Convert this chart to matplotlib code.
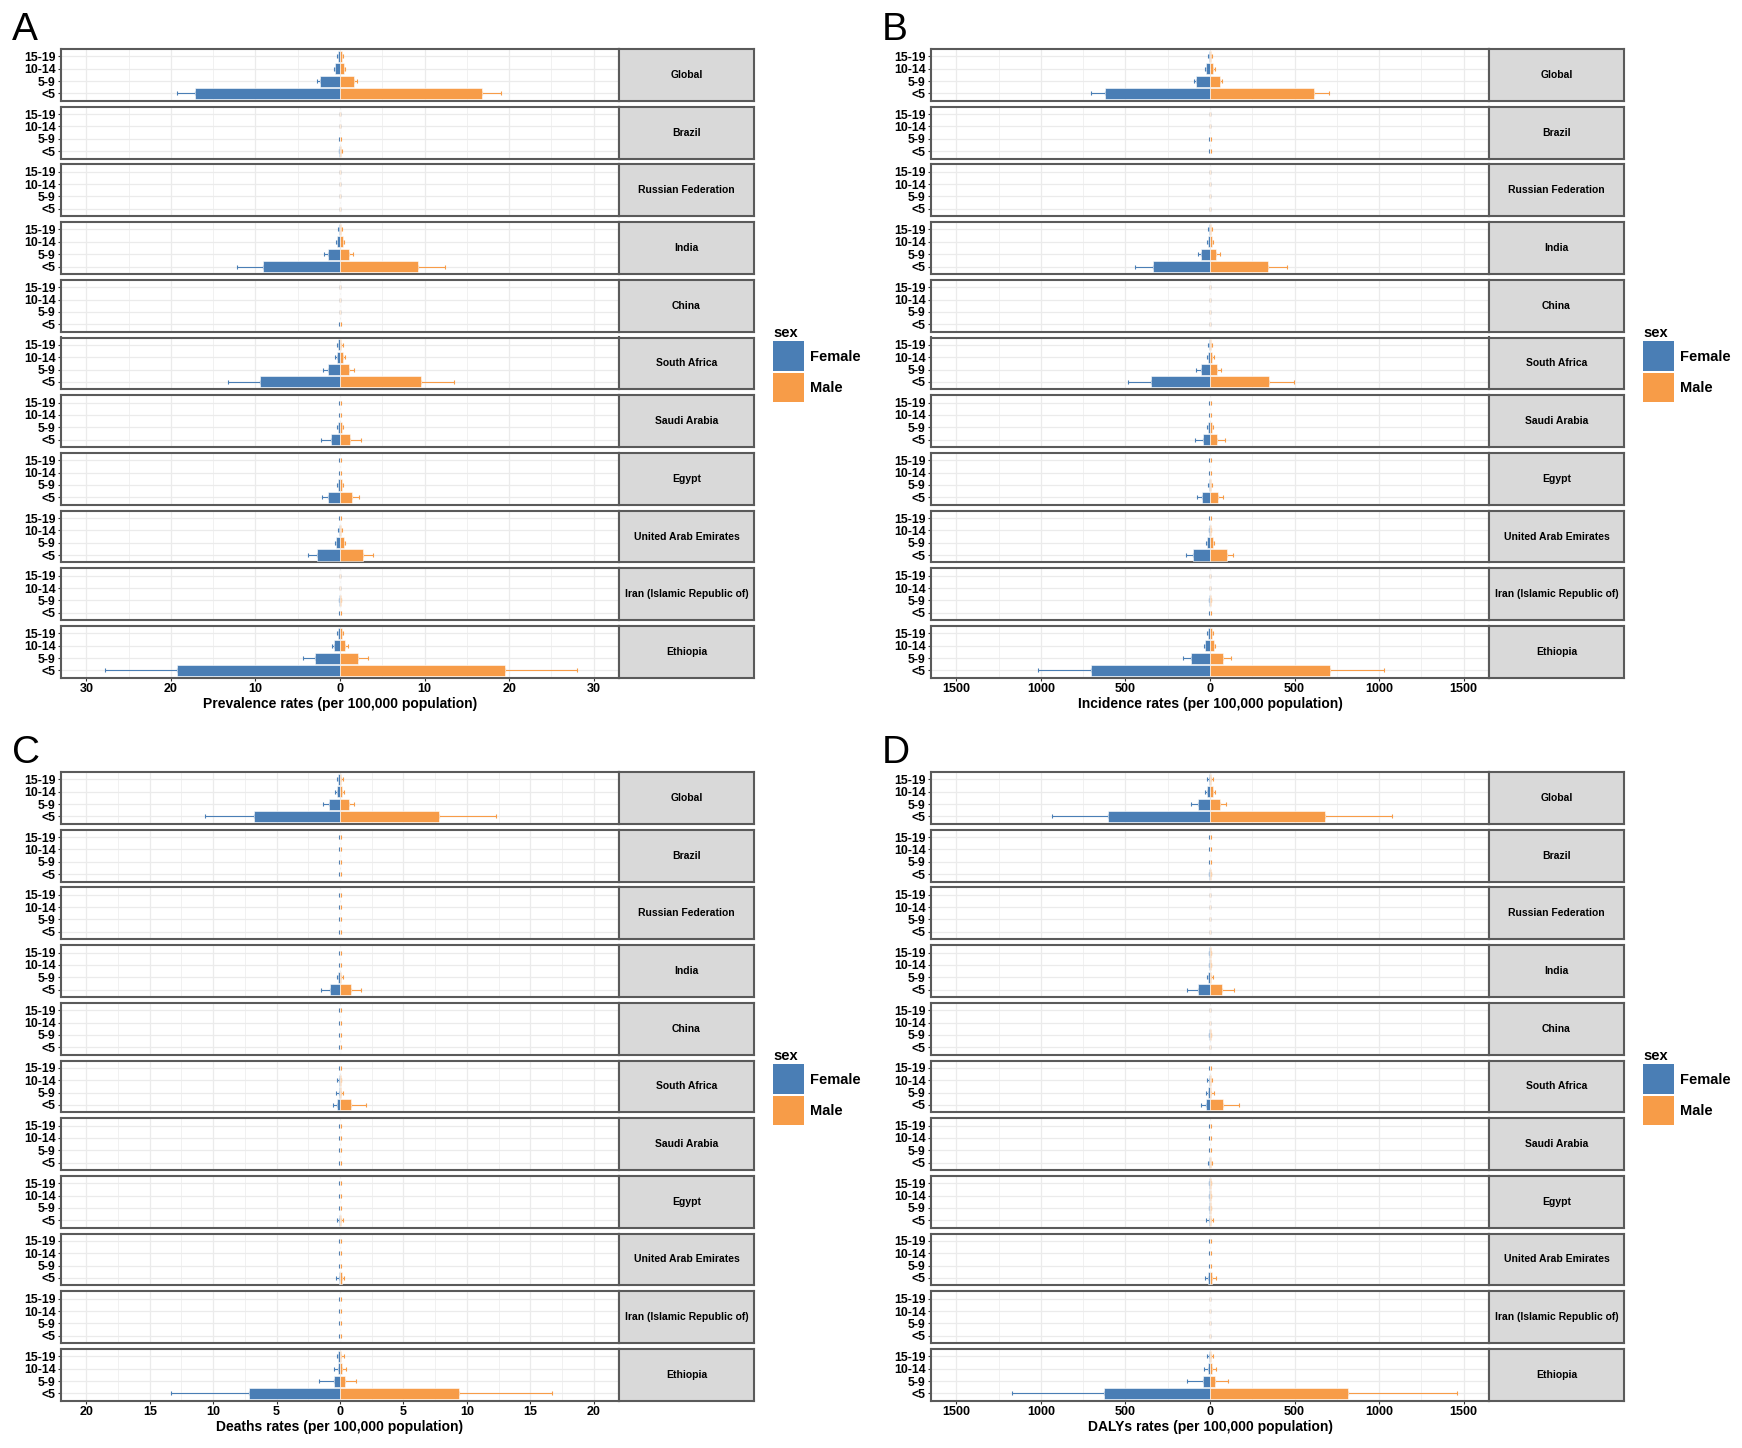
import numpy as np
import matplotlib
matplotlib.use("Agg")
import matplotlib.pyplot as plt
from matplotlib.patches import Patch

W, H = 1742, 1448
NARROW = ["Liberation Sans Narrow", "Liberation Sans", "DejaVu Sans"]

countries = ["Global", "Brazil", "Russian Federation", "India", "China", "South Africa",
             "Saudi Arabia", "Egypt", "United Arab Emirates", "Iran (Islamic Republic of)", "Ethiopia"]
ages = ["<5", "5-9", "10-14", "15-19"]

# values per country, ages in order <5, 5-9, 10-14, 15-19
prev_female = [[17.1, 2.4, 0.55, 0.24], [0.1, 0.05, 0.03, 0.02], [0.03, 0.02, 0.02, 0.02],
               [9.13, 1.38, 0.35, 0.15], [0.05, 0.03, 0.02, 0.02], [9.45, 1.46, 0.31, 0.2],
               [1.1, 0.2, 0.05, 0.05], [1.38, 0.24, 0.05, 0.03], [2.7, 0.47, 0.12, 0.05],
               [0.05, 0.08, 0.03, 0.03], [19.3, 2.95, 0.71, 0.24]]
prev_female_up = [[19.3, 2.7, 0.7, 0.35], [0.15, 0.08, 0.05, 0.04], [0.05, 0.04, 0.03, 0.03],
                  [12.2, 1.85, 0.5, 0.25], [0.08, 0.05, 0.04, 0.03], [13.3, 2.05, 0.55, 0.3],
                  [2.3, 0.35, 0.1, 0.08], [2.1, 0.35, 0.1, 0.06], [3.75, 0.6, 0.2, 0.1],
                  [0.08, 0.12, 0.05, 0.05], [27.8, 4.37, 1.0, 0.4]]
prev_male = [[16.85, 1.65, 0.43, 0.24], [0.15, 0.05, 0.03, 0.02], [0.03, 0.02, 0.02, 0.02],
             [9.25, 1.02, 0.35, 0.15], [0.05, 0.03, 0.02, 0.02], [9.57, 1.02, 0.35, 0.16],
             [1.18, 0.24, 0.05, 0.05], [1.38, 0.24, 0.05, 0.03], [2.7, 0.47, 0.1, 0.05],
             [0.05, 0.08, 0.03, 0.03], [19.5, 2.17, 0.6, 0.24]]
prev_male_up = [[19.1, 1.97, 0.6, 0.35], [0.2, 0.08, 0.05, 0.04], [0.05, 0.04, 0.03, 0.03],
                [12.4, 1.5, 0.5, 0.25], [0.08, 0.05, 0.04, 0.03], [13.5, 1.7, 0.6, 0.3],
                [2.45, 0.35, 0.1, 0.08], [2.2, 0.35, 0.1, 0.06], [3.85, 0.6, 0.18, 0.1],
                [0.08, 0.12, 0.05, 0.05], [28.07, 3.35, 0.9, 0.4]]

inc_female = [[622, 85, 24, 8], [2, 2, 1, 1], [1, 1, 1, 1], [337, 55, 14, 6], [1, 1, 1, 1],
              [346, 55, 14, 8], [43, 10, 2, 2], [49, 8, 2, 2], [98, 20, 5, 2], [2, 4, 1, 1],
              [705, 110, 30, 10]]
inc_female_up = [[705, 93, 30, 12], [3, 3, 2, 2], [2, 2, 2, 2], [443, 69, 20, 9], [2, 2, 2, 2],
                 [484, 81, 20, 12], [87, 15, 4, 3], [77, 13, 4, 3], [140, 25, 8, 4], [3, 6, 2, 2],
                 [1016, 160, 35, 16]]
inc_male = [[618, 61, 18, 8], [2, 2, 1, 1], [1, 1, 1, 1], [341, 37, 14, 6], [1, 1, 1, 1],
            [350, 39, 14, 6], [43, 10, 2, 2], [47, 8, 2, 2], [98, 20, 5, 2], [2, 4, 1, 1],
            [709, 77, 22, 12]]
inc_male_up = [[701, 73, 30, 12], [3, 3, 2, 2], [2, 2, 2, 2], [455, 59, 20, 9], [2, 2, 2, 2],
               [494, 65, 22, 10], [91, 15, 4, 3], [79, 13, 4, 3], [138, 25, 8, 4], [3, 6, 2, 2],
               [1030, 122, 30, 16]]

death_female = [[6.82, 0.84, 0.21, 0.13], [0.02, 0.02, 0.02, 0.02], [0.02, 0.02, 0.02, 0.02],
                [0.76, 0.16, 0.03, 0.03], [0.02, 0.02, 0.02, 0.02], [0.26, 0.1, 0.1, 0.03],
                [0.03, 0.03, 0.03, 0.03], [0.08, 0.03, 0.03, 0.03], [0.1, 0.02, 0.02, 0.02],
                [0.02, 0.02, 0.02, 0.02], [7.17, 0.5, 0.16, 0.13]]
death_female_up = [[10.67, 1.34, 0.37, 0.25], [0.04, 0.04, 0.04, 0.04], [0.04, 0.04, 0.04, 0.04],
                   [1.53, 0.25, 0.06, 0.05], [0.04, 0.04, 0.04, 0.04], [0.58, 0.3, 0.2, 0.06],
                   [0.05, 0.05, 0.05, 0.05], [0.2, 0.05, 0.05, 0.05], [0.3, 0.04, 0.04, 0.04],
                   [0.04, 0.04, 0.04, 0.04], [13.36, 1.63, 0.47, 0.2]]
death_male = [[7.77, 0.69, 0.16, 0.1], [0.02, 0.02, 0.02, 0.02], [0.02, 0.02, 0.02, 0.02],
              [0.84, 0.08, 0.03, 0.03], [0.02, 0.02, 0.02, 0.02], [0.87, 0.08, 0.05, 0.03],
              [0.03, 0.03, 0.03, 0.03], [0.08, 0.03, 0.03, 0.03], [0.16, 0.02, 0.02, 0.02],
              [0.02, 0.02, 0.02, 0.02], [9.38, 0.42, 0.16, 0.08]]
death_male_up = [[12.3, 1.1, 0.32, 0.25], [0.04, 0.04, 0.04, 0.04], [0.04, 0.04, 0.04, 0.04],
                 [1.63, 0.2, 0.06, 0.05], [0.04, 0.04, 0.04, 0.04], [2.03, 0.25, 0.1, 0.06],
                 [0.05, 0.05, 0.05, 0.05], [0.2, 0.05, 0.05, 0.05], [0.35, 0.04, 0.04, 0.04],
                 [0.04, 0.04, 0.04, 0.04], [16.7, 1.29, 0.45, 0.3]]

daly_female = [[604, 69, 18, 8], [4, 2, 2, 2], [1, 1, 1, 1], [69, 12, 3, 3], [1, 3, 1, 1],
               [24, 12, 6, 2], [6, 2, 2, 2], [8, 3, 3, 3], [14, 2, 2, 2], [1, 1, 1, 1],
               [628, 43, 14, 8]]
daly_female_up = [[937, 110, 30, 15], [6, 3, 3, 3], [2, 2, 2, 2], [138, 20, 5, 5], [2, 5, 2, 2],
                  [55, 24, 16, 4], [10, 4, 3, 3], [22, 5, 5, 5], [30, 4, 3, 3], [2, 2, 2, 2],
                  [1171, 138, 33, 20]]
daly_male = [[683, 57, 16, 8], [4, 2, 2, 2], [1, 1, 1, 1], [73, 8, 3, 3], [1, 3, 1, 1],
             [77, 8, 4, 2], [6, 2, 2, 2], [6, 3, 3, 3], [14, 2, 2, 2], [1, 1, 1, 1],
             [817, 31, 14, 8]]
daly_male_up = [[1079, 93, 28, 15], [6, 3, 3, 3], [2, 2, 2, 2], [140, 16, 5, 5], [2, 5, 2, 2],
                [171, 22, 10, 4], [10, 4, 3, 3], [20, 5, 5, 5], [35, 4, 3, 3], [2, 2, 2, 2],
                [1461, 104, 33, 20]]

FEMALE = "#4A7EB5"
MALE = "#F79C48"
BORDER = "#5A5A5A"
GRID = "#EBEBEB"


def rect(x0, y0, w, h):
    return [x0 / W, 1 - (y0 + h) / H, w / W, h / H]


def draw_panel(fig, letter, left, top, fem, fem_up, mal, mal_up, lim, major, minor, xlabel):
    ax_w, strip_w = 558, 135
    facet_h, pitch = 51.8, 57.7
    y = np.arange(len(ages))
    fig.text((left - 49) / W, 1 - (top - 19) / H, letter, fontsize=28,
             family=NARROW, ha="left", va="center")
    for i, name in enumerate(countries):
        ftop = top + i * pitch
        ax = fig.add_axes(rect(left, ftop, ax_w, facet_h))
        f = -np.array(fem[i])
        m = np.array(mal[i])
        fu = -np.array(fem_up[i])
        mu = np.array(mal_up[i])
        ax.errorbar(fu / 2 + f / 2, y, xerr=np.abs(fu - f) / 2, fmt="none", ecolor=FEMALE,
                    elinewidth=0.8, capsize=1.5, capthick=0.8, zorder=2)
        ax.errorbar(mu / 2 + m / 2, y, xerr=np.abs(mu - m) / 2, fmt="none", ecolor=MALE,
                    elinewidth=0.8, capsize=1.5, capthick=0.8, zorder=2)
        ax.barh(y, f, height=0.9, color=FEMALE, edgecolor="white", linewidth=0.4, zorder=3)
        ax.barh(y, m, height=0.9, color=MALE, edgecolor="white", linewidth=0.4, zorder=3)
        ax.set_xlim(-lim, lim)
        ax.set_ylim(-0.6, len(ages) - 0.4)
        ax.set_yticks(y)
        ax.set_yticklabels(ages, fontsize=8.8, fontweight="bold", family=NARROW)
        ax.set_xticks(major)
        ax.set_xticks(minor, minor=True)
        ax.grid(True, which="major", color=GRID, lw=0.9, zorder=0)
        ax.grid(True, which="minor", axis="x", color=GRID, lw=0.5, zorder=0)
        ax.set_axisbelow(True)
        ax.tick_params(axis="y", length=2.5, width=0.8, pad=1.5, color="#333333")
        ax.tick_params(axis="x", which="minor", length=0)
        for s in ax.spines.values():
            s.set_color(BORDER)
            s.set_linewidth(1.5)
        if i == len(countries) - 1:
            ax.set_xticklabels([f"{abs(v):g}" for v in major], fontsize=9,
                               fontweight="bold", family=NARROW)
            ax.tick_params(axis="x", length=2.5, width=0.8, pad=1.5, color="#333333")
            ax.set_xlabel(xlabel, fontsize=10, fontweight="bold", family=NARROW, labelpad=1)
        else:
            ax.tick_params(axis="x", which="both", length=0, labelbottom=False)
        st = fig.add_axes(rect(left + ax_w, ftop, strip_w, facet_h))
        st.set_facecolor("#D9D9D9")
        st.set_xticks([])
        st.set_yticks([])
        for s in st.spines.values():
            s.set_color(BORDER)
            s.set_linewidth(1.5)
        st.text(0.5, 0.5, name, transform=st.transAxes, ha="center", va="center",
                fontsize=7.5, fontweight="bold", family=NARROW)
    handles = [Patch(facecolor=FEMALE, edgecolor="none", label="Female"),
               Patch(facecolor=MALE, edgecolor="none", label="Male")]
    leg = fig.legend(handles=handles, title="sex", loc="upper left",
                     bbox_to_anchor=((left + ax_w + strip_w + 19) / W, 1 - (top + 277) / H),
                     frameon=False, fontsize=10.5, title_fontsize=10.5,
                     handlelength=2.1, handleheight=2.75, labelspacing=0.1,
                     handletextpad=0.45, borderpad=0, borderaxespad=0, alignment="left")
    for t in leg.get_texts():
        t.set_fontweight("bold")
        t.set_family(NARROW)
    leg.get_title().set_fontweight("bold")
    leg.get_title().set_family(NARROW)


fig = plt.figure(figsize=(W / 100, H / 100), dpi=100)

draw_panel(fig, "A", 61, 49, prev_female, prev_female_up, prev_male, prev_male_up, 33,
           [-30, -20, -10, 0, 10, 20, 30], np.arange(-30, 31, 5),
           "Prevalence rates (per 100,000 population)")
draw_panel(fig, "B", 931, 49, inc_female, inc_female_up, inc_male, inc_male_up, 1650,
           [-1500, -1000, -500, 0, 500, 1000, 1500], np.arange(-1500, 1501, 250),
           "Incidence rates (per 100,000 population)")
draw_panel(fig, "C", 61, 772, death_female, death_female_up, death_male, death_male_up, 22,
           [-20, -15, -10, -5, 0, 5, 10, 15, 20], np.arange(-20, 20.1, 2.5),
           "Deaths rates (per 100,000 population)")
draw_panel(fig, "D", 931, 772, daly_female, daly_female_up, daly_male, daly_male_up, 1650,
           [-1500, -1000, -500, 0, 500, 1000, 1500], np.arange(-1500, 1501, 250),
           "DALYs rates (per 100,000 population)")

fig.savefig("out.png", dpi=100, facecolor="white")
